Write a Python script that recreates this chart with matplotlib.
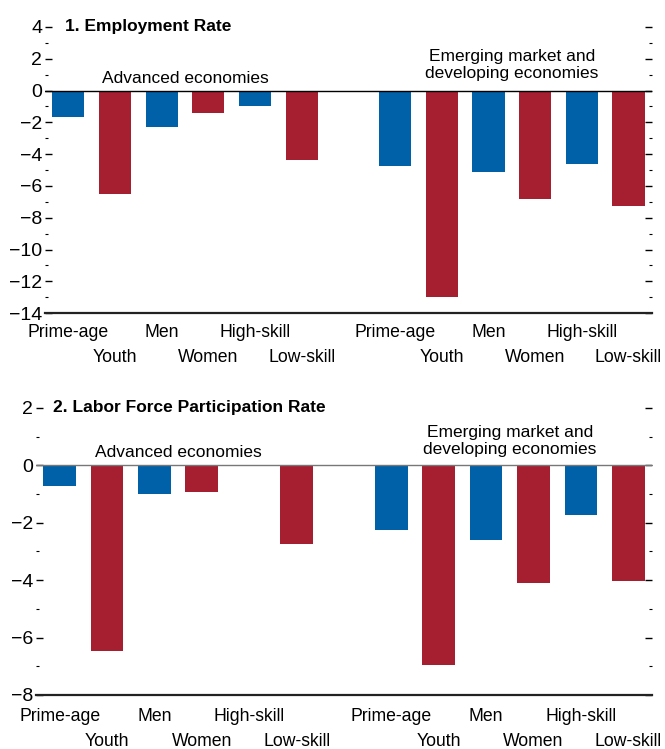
import matplotlib.pyplot as plt
from matplotlib.ticker import MultipleLocator

plt.rcParams['font.family'] = ['Liberation Sans', 'DejaVu Sans']

# categories (same order in both groups)
cats = ["Prime-age", "Youth", "Men", "Women", "High-skill", "Low-skill"]
colors_cat = ["blue", "red", "blue", "red", "blue", "red"]

# 1. Employment Rate
emp_adv = [-1.67, -6.48, -2.31, -1.42, -0.98, -4.37]
emp_em = [-4.73, -12.98, -5.10, -6.85, -4.60, -7.29]

# 2. Labor Force Participation Rate
lfp_adv = [-0.73, -6.48, -0.98, -0.94, -0.03, -2.75]
lfp_em = [-2.24, -6.97, -2.59, -4.11, -1.72, -4.04]

BLUE = "#0061a8"
RED = "#a61f31"
cmap = {"blue": BLUE, "red": RED}

fig = plt.figure(figsize=(6.65, 7.49), dpi=100)
ax1 = fig.add_axes([0.0677, 0.582, 0.9125, 0.382])
ax2 = fig.add_axes([0.0541, 0.0721, 0.9263, 0.3832])

pos_adv = list(range(6))
pos_em = [p + 7 for p in pos_adv]


def panel(ax, adv, em, ylo, yhi, title, title_x, adv_y, em_y, zero_col, pads):
    cols = [cmap[c] for c in colors_cat]
    ax.bar(pos_adv, adv, width=0.69, color=cols, zorder=2)
    ax.bar(pos_em, em, width=0.69, color=cols, zorder=2)
    ax.axhline(0, color=zero_col, lw=1.0, zorder=3)
    ax.set_xlim(-0.5, 12.5)
    ax.set_ylim(ylo, yhi)
    for s in ["top", "left", "right"]:
        ax.spines[s].set_visible(False)
    ax.spines["bottom"].set_linewidth(1.6)
    ax.spines["bottom"].set_color("#222222")
    ax.yaxis.set_major_locator(MultipleLocator(2))
    ax.yaxis.set_minor_locator(MultipleLocator(1))
    ax.tick_params(axis="y", which="both", direction="in", left=True, right=True,
                   labelleft=True, labelright=False, color="black")
    ax.tick_params(axis="y", which="major", length=5, width=1.0, labelsize=14, pad=2)
    ax.tick_params(axis="y", which="minor", length=2.5, width=0.8)
    # two rows of category labels: even ones on top row, odd ones below
    pos = pos_adv + pos_em
    labs = cats + cats
    ax.set_xticks(pos[0::2])
    ax.set_xticklabels(labs[0::2])
    ax.set_xticks(pos[1::2], minor=True)
    ax.set_xticklabels(labs[1::2], minor=True)
    ax.tick_params(axis="x", which="both", length=0, labelsize=12.7)
    ax.tick_params(axis="x", which="major", pad=pads[0])
    ax.tick_params(axis="x", which="minor", pad=pads[1])
    ax.text(title_x, yhi, title, fontsize=12.5, fontweight="bold", va="center", ha="left")
    ax.text(2.5, adv_y, "Advanced economies", fontsize=12.5, ha="center", va="center")
    ax.text(9.5, em_y, "Emerging market and\ndeveloping economies", fontsize=12.5,
            ha="center", va="center", linespacing=1.15)


panel(ax1, emp_adv, emp_em, -14, 4, "1. Employment Rate", -0.07, 0.75, 1.6, "black", (8, 26))
panel(ax2, lfp_adv, lfp_em, -8, 2, "2. Labor Force Participation Rate", -0.14, 0.45, 0.86,
      "#777777", (9.5, 27.5))

fig.savefig("out.png", dpi=100)
